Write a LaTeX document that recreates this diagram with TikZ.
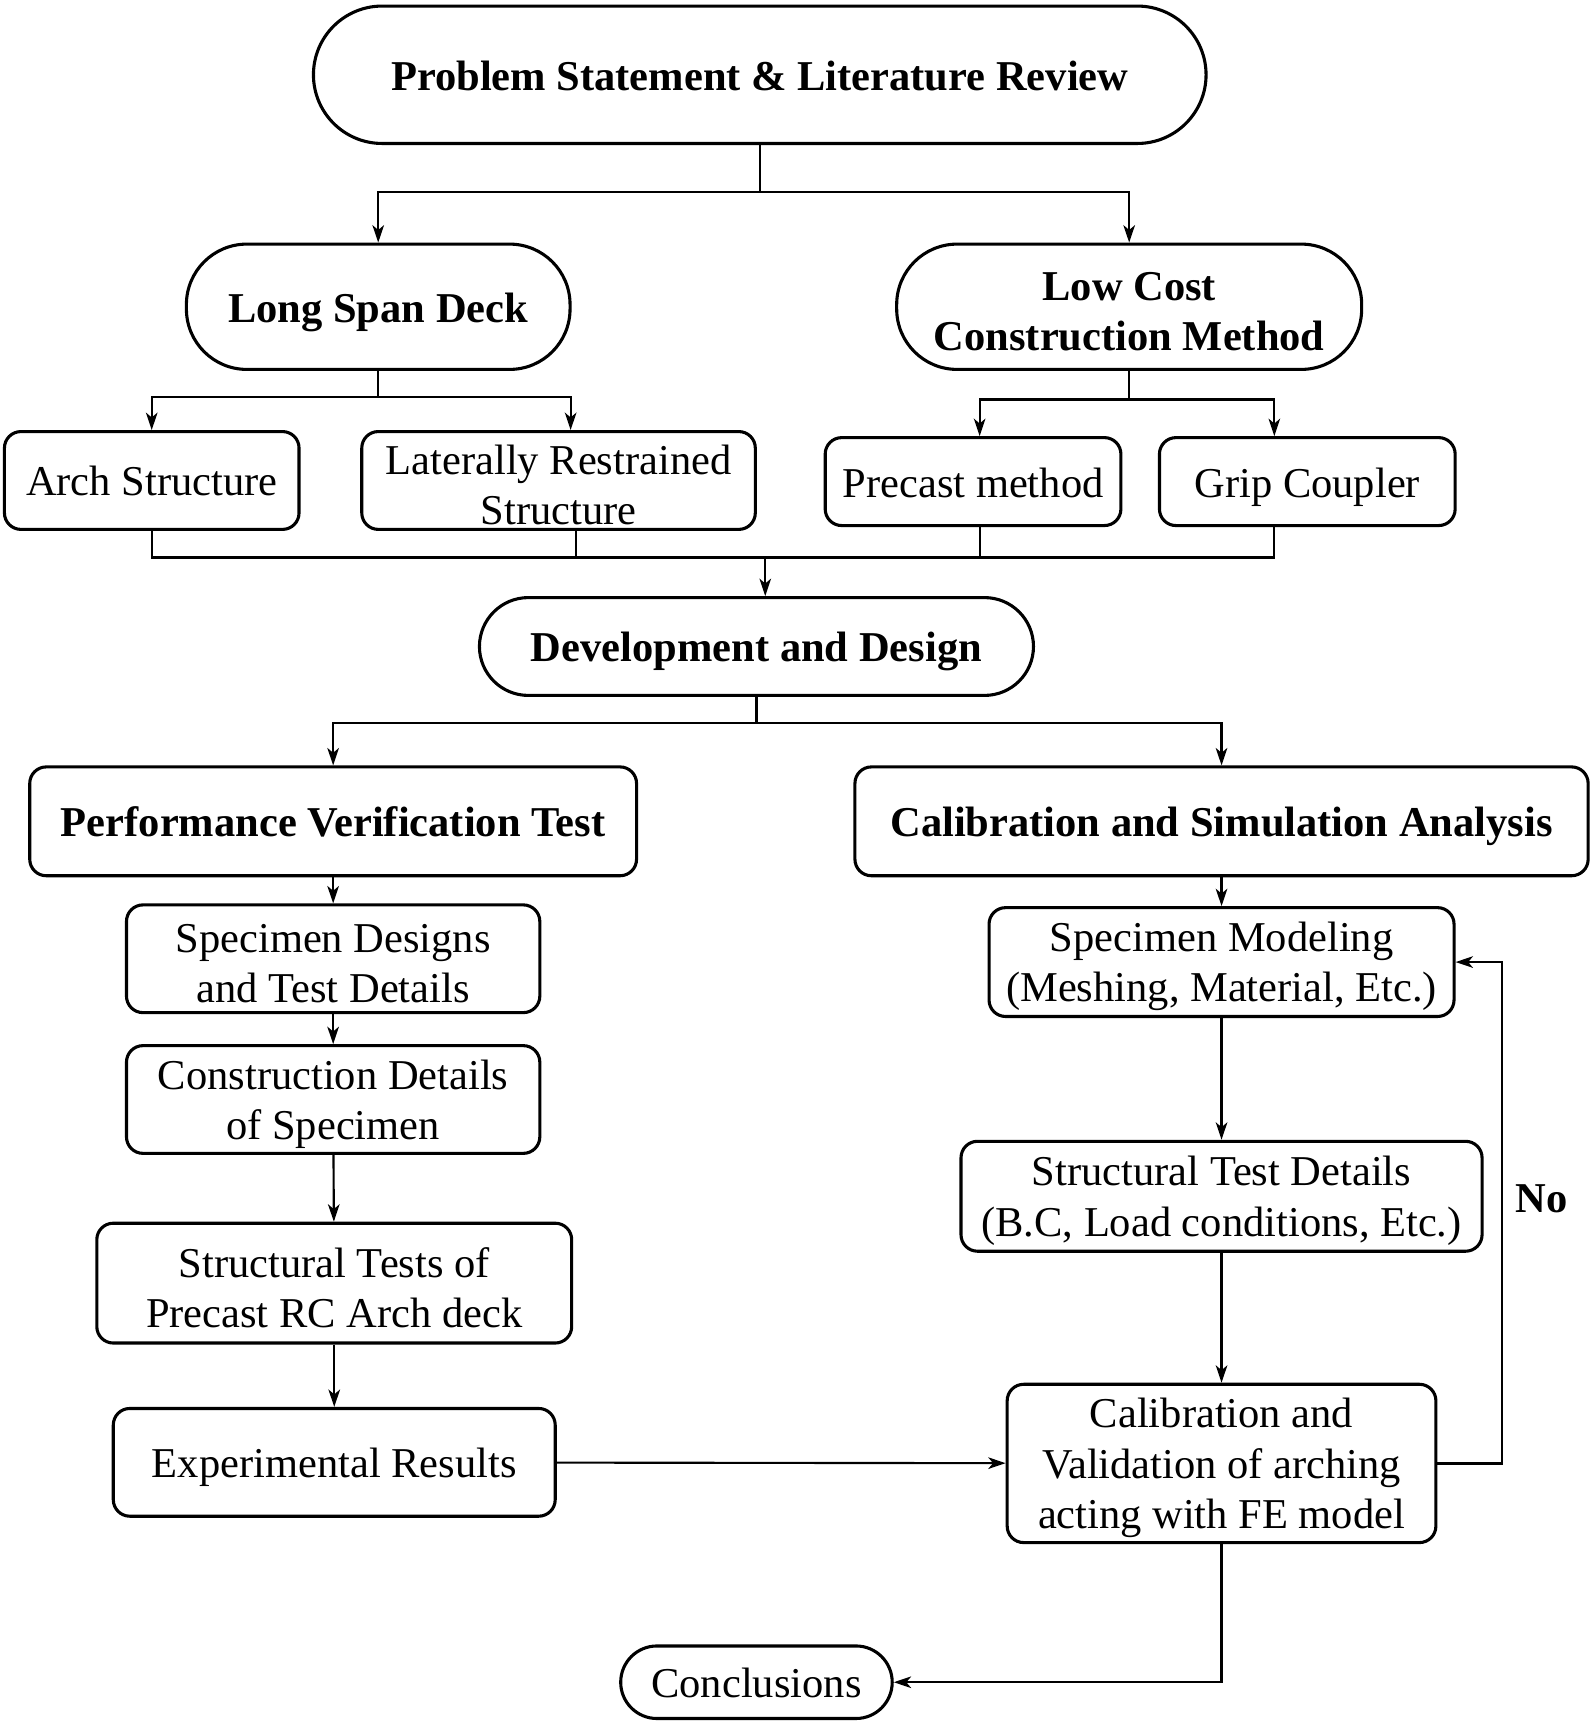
\documentclass[tikz,border=0pt]{standalone}
\usepackage{fontspec}
\setmainfont{Liberation Serif}
\usetikzlibrary{arrows.meta}
\newcommand{\topstrut}{\rule{0pt}{20pt}}
\tikzset{box/.style={draw,line width=1.6pt,rounded corners=0.3cm,align=center,inner sep=0pt,
		font=\fontsize{22}{26}\selectfont},
	bbox/.style={box,font=\fontsize{22}{26}\selectfont\bfseries},
	pill/.style={bbox,rounded corners=#1},
	oneline/.style={text height=21pt,text depth=5pt},
}

\begin{document}
\begin{tikzpicture}[x=0.02cm,y=-0.02cm,>={Stealth[length=9pt,width=6pt,inset=2.5pt]},line width=1.1pt]
	\useasboundingbox (0,0) rectangle (1449,1568);
	
	\node[pill=1.25cm,oneline,minimum width=16.24cm,minimum height=2.5cm] (prob) at (691,68) {Problem Statement \& Literature Review};
	\node[pill=1.1cm,oneline,minimum width=6.98cm,minimum height=2.28cm] (lsd) at (344,279) {Long Span Deck};
	\node[pill=1.1cm,minimum width=8.46cm,minimum height=2.28cm] (lcc) at (1027,279) {\topstrut Low Cost\\Construction Method};
	\node[box,oneline,minimum width=5.36cm,minimum height=1.78cm] (arch) at (138,437) {Arch Structure};
	\node[box,minimum width=7.16cm,minimum height=1.78cm] (lrs) at (508,437) {\topstrut Laterally Restrained\\Structure};
	\node[box,oneline,minimum width=5.38cm,minimum height=1.6cm] (pre) at (885,438) {Precast method};
	\node[box,oneline,minimum width=5.38cm,minimum height=1.6cm] (grip) at (1189,438) {Grip Coupler};
	\node[pill=0.89cm,oneline,minimum width=10.08cm,minimum height=1.78cm] (dnd) at (688,588) {Development and Design};
	
	% left branch
	\node[bbox,oneline,minimum width=11.04cm,minimum height=1.98cm] (pvt) at (303,747) {Performance Verification Test};
	\node[box,minimum width=7.52cm,minimum height=1.96cm] (spd) at (303,872) {\topstrut Specimen Designs\\and Test Details};
	\node[box,minimum width=7.52cm,minimum height=1.96cm] (cod) at (303,1000) {\topstrut Construction Details\\of Specimen};
	\node[box,minimum width=8.64cm,minimum height=2.18cm] (stt) at (304,1167) {\topstrut Structural Tests of\\Precast RC Arch deck};
	\node[box,oneline,minimum width=8.04cm,minimum height=1.96cm] (exr) at (304,1330) {Experimental Results};
	
	% right branch
	\node[bbox,oneline,minimum width=13.34cm,minimum height=1.98cm] (csa) at (1111,747) {Calibration and Simulation Analysis};
	\node[box,minimum width=8.46cm,minimum height=1.98cm] (spm) at (1111,875) {\topstrut Specimen Modeling\\(Meshing, Material, Etc.)};
	\node[box,minimum width=9.48cm,minimum height=2cm] (std) at (1111,1088) {\topstrut Structural Test Details\\(B.C, Load conditions, Etc.)};
	\node[box,minimum width=7.8cm,minimum height=2.88cm] (cav) at (1111,1331) {\topstrut Calibration and\\Validation of arching\\acting with FE model};
	\node[pill=0.66cm,oneline,minimum width=4.94cm,minimum height=1.32cm,font=\fontsize{22}{26}\selectfont] (con) at (688,1530) {Conclusions};
	\node[font=\fontsize{22}{26}\selectfont\bfseries] (no) at (1402,1090) {No};
	
	\draw (prob.south) -- ++(0,43) coordinate (j1);
	\draw[->] (j1) -| (lsd.north);
	\draw[->] (j1) -| (lcc.north);
	
	\draw (lsd.south) -- ++(0,24) coordinate (j2);
	\draw[->] (j2) -| (arch.north);
	\draw[->] (j2) -| ([xshift=0.22cm]lrs.north);
	\draw (lcc.south) -- ++(0,26) coordinate (j3);
	\draw[->] (j3) -| ([xshift=0.12cm]pre.north);
	\draw[->] (j3) -| ([xshift=-0.6cm]grip.north);
	
	\coordinate (j4) at (696,507);
	\draw (arch.south) |- (j4);
	\draw ([xshift=-0.6cm]grip.south) |- (j4);
	\draw ([xshift=0.32cm]lrs.south) -- ++(0,25);
	\draw ([xshift=0.12cm]pre.south) -- ++(0,29);
	\draw[->] (j4) -- (dnd.north -| j4);
	
	\draw (dnd.south) -- ++(0,24) coordinate (j5);
	\draw[->] (j5) -| (pvt.north);
	\draw[->] (j5) -| (csa.north);
	
	\draw[->] (pvt) -- (spd);
	\draw[->] (spd) -- (cod);
	\draw[->] (cod) -- (stt);
	\draw[->] (stt) -- (exr);
	\draw[->] (csa) -- (spm);
	\draw[->] (spm) -- (std);
	\draw[->] (std) -- (cav);
	\draw[->] (exr) -- (cav);
	\draw[->] (cav.east) -- ++(59,0) |- (spm.east);
	\draw[->] (cav.south) |- (con.east);
\end{tikzpicture}
\end{document}
